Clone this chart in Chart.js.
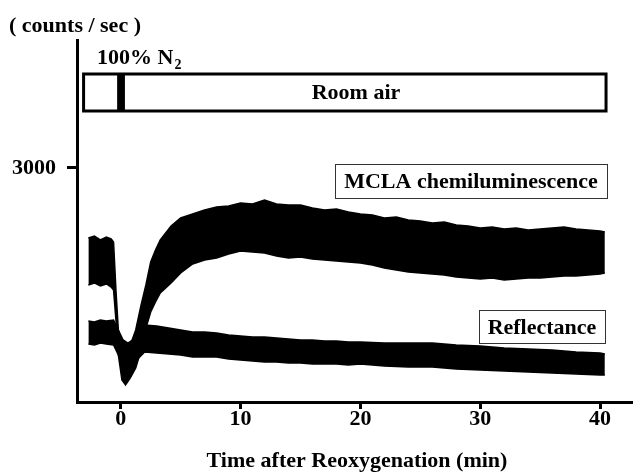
<!DOCTYPE html>
<html>
<head>
<meta charset="utf-8">
<script src="https://cdn.jsdelivr.net/npm/chart.js@4.4.0/dist/chart.umd.min.js"></script>
<style>
  html, body { margin: 0; padding: 0; background: #fff; }
  #wrap { width: 633px; height: 472px; }
</style>
</head>
<body>
<div id="wrap"><canvas id="chart" width="633" height="472"></canvas></div>
<script>
// time (min) and band edges (counts / sec)
const mclaTimes = [-2.7, -2.2, -1.7, -1.2, -0.8, -0.6, -0.4, -0.2, 0.1, 0.4, 0.8, 1.25, 1.7, 2.1, 2.5, 2.9, 3.3, 4.2, 5, 6, 7, 8, 9, 10, 11, 12, 13, 14, 15, 16, 17, 18, 19, 20, 21, 22, 23, 24, 25, 26, 27, 28, 29, 30, 31, 32, 33, 34, 35, 36, 37, 38, 39, 40, 40.4];
const mclaUpper = [2102, 2128, 2077, 2115, 2090, 2051, 1436, 923, 667, 590, 731, 923, 1244, 1500, 1795, 1949, 2077, 2256, 2359, 2410, 2461, 2500, 2513, 2551, 2538, 2590, 2538, 2526, 2526, 2487, 2461, 2474, 2436, 2410, 2397, 2359, 2372, 2333, 2320, 2295, 2308, 2269, 2256, 2231, 2244, 2218, 2231, 2205, 2218, 2231, 2244, 2218, 2205, 2192, 2179];
const mclaLower = [1500, 1526, 1487, 1513, 1474, 1436, 1051, 603, 282, 218, 308, 436, 667, 949, 1154, 1282, 1397, 1526, 1654, 1769, 1820, 1846, 1897, 1936, 1923, 1910, 1872, 1846, 1859, 1833, 1820, 1808, 1795, 1782, 1756, 1718, 1692, 1667, 1654, 1641, 1628, 1603, 1590, 1577, 1590, 1564, 1577, 1590, 1590, 1603, 1615, 1615, 1628, 1641, 1654];

const reflTimes = [-2.7, -2.2, -1.7, -1.2, -0.6, -0.2, 0.2, 0.6, 1.0, 1.5, 2, 3, 4, 5, 6, 7, 8, 9, 10, 11, 12, 13, 14, 15, 16, 17, 18, 19, 20, 22, 24, 26, 28, 30, 32, 34, 36, 38, 40, 40.4];
const reflUpper = [1038, 1026, 1051, 1038, 1051, 923, 795, 756, 795, 885, 987, 974, 949, 923, 897, 897, 885, 859, 846, 833, 833, 820, 808, 795, 795, 782, 782, 769, 769, 756, 756, 756, 731, 718, 692, 679, 667, 641, 628, 615];
const reflLower = [744, 731, 756, 744, 731, 603, 474, 436, 474, 564, 641, 628, 615, 603, 577, 577, 577, 551, 538, 526, 513, 513, 500, 500, 487, 487, 487, 474, 487, 462, 449, 449, 423, 410, 397, 385, 372, 359, 346, 346];

const xTicks = [0, 10, 20, 30, 40];
const yTicks = [3000];

const serif = '"Liberation Serif", "DejaVu Serif", serif';

function pts(xs, ys) {
  return xs.map((x, i) => ({ x: x, y: ys[i] }));
}

function band(label, xs, ys, fill) {
  return {
    label: label,
    data: pts(xs, ys),
    borderColor: '#000',
    backgroundColor: '#000',
    borderWidth: 1.5,
    pointRadius: 0,
    tension: 0,
    fill: fill
  };
}

// gas bar, labels and boxed captions
const decor = {
  id: 'decor',
  afterDraw(chart) {
    const ctx = chart.ctx;
    const xs = chart.scales.x;
    ctx.save();
    ctx.fillStyle = '#000';
    ctx.strokeStyle = '#000';
    ctx.textBaseline = 'middle';

    ctx.font = 'bold 22px ' + serif;
    ctx.textAlign = 'left';
    ctx.fillText('( counts / sec )', 9, 26);

    ctx.fillText('100% N', 97, 58);
    const nw = ctx.measureText('100% N').width;
    ctx.font = 'bold 14px ' + serif;
    ctx.fillText('2', 97 + nw + 1, 65);

    // room air bar
    const bl = xs.getPixelForValue(-3.1), br = xs.getPixelForValue(40.5);
    ctx.lineWidth = 3;
    ctx.strokeRect(bl, 74, br - bl, 37);
    const sl = xs.getPixelForValue(-0.3), sr = xs.getPixelForValue(0.35);
    ctx.fillRect(sl, 74, sr - sl, 37);
    ctx.font = 'bold 22px ' + serif;
    ctx.textAlign = 'center';
    ctx.fillText('Room air', 356, 93);

    // captions
    ctx.lineWidth = 1;
    ctx.strokeStyle = '#333';
    ctx.strokeRect(335.5, 164.5, 272, 34);
    ctx.fillText('MCLA chemiluminescence', 471, 182);
    ctx.strokeRect(479.5, 310.5, 126, 33);
    ctx.fillText('Reflectance', 542, 328);

    ctx.fillText('Time after Reoxygenation (min)', 357, 461);
    ctx.restore();
  }
};

new Chart(document.getElementById('chart'), {
  type: 'line',
  data: {
    datasets: [
      band('MCLA upper', mclaTimes, mclaUpper, false),
      band('MCLA chemiluminescence', mclaTimes, mclaLower, '-1'),
      band('Reflectance upper', reflTimes, reflUpper, false),
      band('Reflectance', reflTimes, reflLower, '-1')
    ]
  },
  options: {
    responsive: false,
    animation: false,
    devicePixelRatio: 1,
    layout: { padding: { top: 40, right: 0, left: 0, bottom: 0 } },
    plugins: { legend: { display: false }, tooltip: { enabled: false } },
    scales: {
      x: {
        type: 'linear',
        min: -3.65,
        max: 42.75,
        afterBuildTicks: s => { s.ticks = xTicks.map(v => ({ value: v })); },
        afterFit: s => { s.height = 70; },
        grid: { drawOnChartArea: false, drawTicks: true, tickLength: 7, lineWidth: 3, color: '#000' },
        border: { display: true, width: 3, color: '#000' },
        ticks: { color: '#000', padding: -3, maxRotation: 0, callback: v => String(v), font: { family: serif, size: 22, weight: 'bold' } }
      },
      y: {
        type: 'linear',
        min: 0,
        max: 4640,
        afterBuildTicks: s => { s.ticks = yTicks.map(v => ({ value: v })); },
        afterFit: s => { s.width = 77; },
        grid: { drawOnChartArea: false, drawTicks: true, tickLength: 10, lineWidth: 3, color: '#000' },
        border: { display: true, width: 3, color: '#000' },
        ticks: { color: '#000', padding: 11, callback: v => String(v), font: { family: serif, size: 22, weight: 'bold' } }
      }
    }
  },
  plugins: [decor]
});
</script>
</body>
</html>
